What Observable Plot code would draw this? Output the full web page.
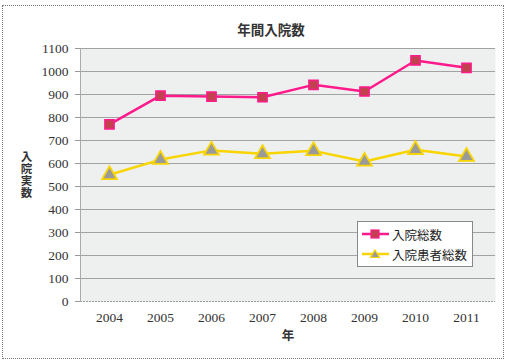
<!DOCTYPE html>
<html><head><meta charset="utf-8">
<script src="https://cdn.jsdelivr.net/npm/d3@7"></script>
<script src="https://cdn.jsdelivr.net/npm/@observablehq/plot@0.6"></script>
<style>
body{margin:0;background:#fff;}
#wrap{position:relative;width:509px;height:363px;overflow:hidden;}
#border{position:absolute;left:2px;top:5px;width:502px;height:354px;border:1px dotted #777;box-sizing:border-box;}
#legend{position:absolute;left:357px;top:221px;width:116px;height:46px;background:#fff;border:1px solid #888;box-sizing:border-box;font-family:"Noto Sans CJK JP";font-size:12.5px;color:#222;}
#legend div{position:absolute;left:4px;display:flex;align-items:center;height:16px;}
#legend svg{margin-right:3px;}
#chart svg g[aria-label="y-axis tick label"] text, #chart svg g[aria-label="x-axis tick label"] text{font-family:"Liberation Serif",serif;}
#chart svg g.vlabel text{writing-mode:vertical-rl;text-orientation:upright;letter-spacing:0.5px;}
</style></head>
<body><div id="wrap"><div id="border"></div><div id="chart"></div><div id="legend"></div></div>
<script>
const years = ["2004","2005","2006","2007","2008","2009","2010","2011"];
const totalAdmissions = [770, 895, 891, 888, 942, 913, 1048, 1016];
const totalPatients = [551, 617, 657, 642, 655, 609, 660, 630];
const seriesNames = ["入院総数", "入院患者総数"];
const yTicks = [0,100,200,300,400,500,600,700,800,900,1000,1100];
const title = "年間入院数";
const xLabel = "年";
const yLabel = "入院実数";

const pink = "#ff1a8c", pinkFill = "#c2414f", yellow = "#f8d400", triFill = "#9a9a9a";
const d1 = years.map((y,i)=>({year:y, v: totalAdmissions[i]}));
const d2 = years.map((y,i)=>({year:y, v: totalPatients[i]}));
const serif = "Liberation Serif", cjk = "Noto Sans CJK JP";

const chart = Plot.plot({
  width: 509, height: 363,
  marginTop: 48, marginBottom: 62, marginLeft: 80, marginRight: 14,
  style: {fontFamily: serif, fontSize: "13.5px", color: "#333", background: "transparent"},
  x: {type: "point", domain: years, padding: 0.5, label: null},
  y: {domain: [0, 1100], label: null},
  marks: [
    Plot.frame({fill: "#eef0ef", stroke: null}),
    Plot.ruleY(yTicks.filter(d=>d>0), {stroke: "#a2a2a2", strokeWidth: 1}),
    Plot.ruleY([0], {stroke: "#999", strokeDasharray: "2,1"}),
    Plot.frame({anchor: "left", stroke: "#aaa"}),
    Plot.axisY({ticks: yTicks, tickFormat: d3.format("d"), tickSize: 5, tickPadding: 7, stroke: "#999", fill: "#333", fontFamily: serif, fontSize: 13.5, label: null}),
    Plot.axisX({tickSize: 0, tickPadding: 11, fill: "#333", fontFamily: serif, fontSize: 13.5, label: null}),
    Plot.line(d1, {x: "year", y: "v", stroke: pink, strokeWidth: 2.5}),
    Plot.line(d2, {x: "year", y: "v", stroke: yellow, strokeWidth: 2.5}),
    Plot.dot(d1, {x: "year", y: "v", symbol: "square", r: 5.2, fill: pinkFill, stroke: pink, strokeWidth: 1.5}),
    Plot.dot(d2, {x: "year", y: "v", symbol: "triangle", r: 5.5, fill: triFill, stroke: yellow, strokeWidth: 1.8}),
    Plot.text([title], {frameAnchor: "top", dy: -23, dx: -17, fontFamily: cjk, fontWeight: "bold", fontSize: 13.5, fill: "#333"}),
    Plot.text([xLabel], {frameAnchor: "bottom", dy: 38, fontFamily: cjk, fontWeight: "bold", fontSize: 12.5, fill: "#333"}),
    Plot.text([yLabel], {frameAnchor: "left", dx: -54, dy: -28, fontFamily: cjk, fontWeight: "bold", fontSize: 11.5, fill: "#333", className: "vlabel"})
  ]
});
document.getElementById("chart").appendChild(chart);

const legend = document.getElementById("legend");
const items = [
  {name: seriesNames[0], stroke: pink, sym: `<rect x="9" y="4" width="8" height="8" fill="${pinkFill}" stroke="${pink}" stroke-width="1.2"/>`},
  {name: seriesNames[1], stroke: yellow, sym: `<path d="M13,4 L17.5,11.5 L8.5,11.5 Z" fill="${triFill}" stroke="${yellow}" stroke-width="1.2"/>`}
];
items.forEach((it,i)=>{
  const div = document.createElement("div");
  div.style.top = (i===0 ? 4 : 24) + "px";
  div.innerHTML = `<svg width="27" height="16"><line x1="0" y1="8" x2="27" y2="8" stroke="${it.stroke}" stroke-width="2.5"/>${it.sym}</svg><span>${it.name}</span>`;
  legend.appendChild(div);
});
</script></body></html>
